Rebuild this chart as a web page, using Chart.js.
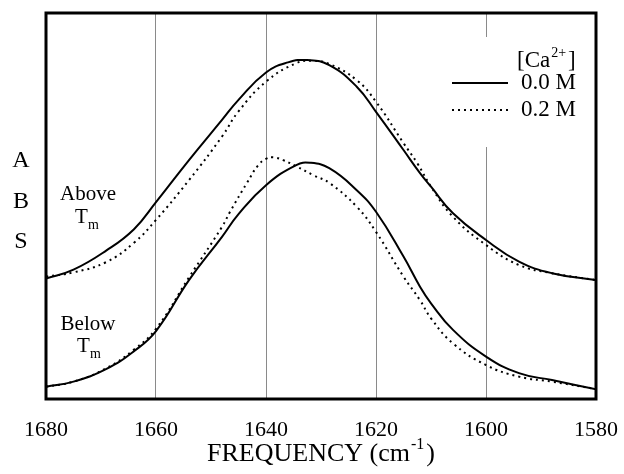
<!DOCTYPE html>
<html>
<head>
<meta charset="utf-8">
<script src="https://cdn.jsdelivr.net/npm/chart.js@4/dist/chart.umd.min.js"></script>
<style>
  html, body { margin: 0; padding: 0; background: #fff; }
  #wrap { width: 624px; height: 474px; }
</style>
</head>
<body>
<div id="wrap"><canvas id="c" width="624" height="474"></canvas></div>
<script>
// ---- data (absorbance in arbitrary units) ----
const xTicks = [1680, 1660, 1640, 1620, 1600, 1580];

const aboveFreq0 = [1680, 1675, 1669, 1664, 1660, 1654, 1648, 1645, 1640, 1636, 1632.5, 1628.5, 1623.5, 1620, 1615, 1612, 1610, 1606, 1600, 1594, 1588, 1580];
const aboveAbs0  = [0.312, 0.335, 0.385, 0.440, 0.510, 0.619, 0.723, 0.775, 0.846, 0.872, 0.878, 0.865, 0.809, 0.744, 0.645, 0.585, 0.550, 0.481, 0.412, 0.356, 0.326, 0.308];

const aboveFreq2 = [1680, 1675, 1669, 1664, 1660, 1654, 1648, 1645, 1640, 1634.5, 1631.5, 1628.5, 1623.5, 1620, 1615, 1612.5, 1610, 1606, 1600, 1594, 1588, 1580];
const aboveAbs2  = [0.317, 0.328, 0.355, 0.405, 0.464, 0.567, 0.680, 0.745, 0.822, 0.870, 0.876, 0.868, 0.826, 0.770, 0.663, 0.611, 0.550, 0.472, 0.399, 0.347, 0.326, 0.308];

const belowFreq0 = [1680, 1675, 1669, 1664, 1660, 1654, 1648, 1645, 1640, 1634.5, 1632, 1628.5, 1623.5, 1620, 1615, 1612, 1610, 1606, 1600, 1594, 1588, 1580];
const belowAbs0  = [0.032, 0.045, 0.078, 0.124, 0.176, 0.308, 0.420, 0.479, 0.554, 0.606, 0.612, 0.598, 0.541, 0.485, 0.369, 0.291, 0.248, 0.179, 0.110, 0.067, 0.049, 0.025];

const belowFreq2 = [1680, 1675, 1669, 1664, 1660, 1654, 1648, 1646.5, 1643.5, 1641.4, 1640, 1638.7, 1636.9, 1634.4, 1631.4, 1628.4, 1623.5, 1620, 1615, 1612, 1610, 1606, 1600, 1594, 1588, 1580];
const belowAbs2  = [0.032, 0.045, 0.080, 0.128, 0.182, 0.315, 0.446, 0.486, 0.559, 0.606, 0.622, 0.626, 0.619, 0.602, 0.580, 0.559, 0.498, 0.433, 0.317, 0.256, 0.209, 0.144, 0.088, 0.058, 0.045, 0.026];

const legendLabels = ['0.0 M', '0.2 M'];

function pts(fx, fy) { return fx.map((f, i) => ({ x: f, y: fy[i] })); }

const SERIF = '"Liberation Serif", "DejaVu Serif", serif';
const DOT = [2, 4];

function ds(fx, fy, dotted) {
  return {
    data: pts(fx, fy),
    borderColor: '#000',
    borderWidth: 2,
    borderDash: dotted ? DOT : [],
    pointRadius: 0,
    fill: false,
    tension: 0.45,
    borderCapStyle: 'butt'
  };
}

const decor = {
  id: 'decor',
  beforeDatasetsDraw(chart) {
    const c = chart.ctx;
    c.save();
    c.fillStyle = '#fff';
    c.fillRect(443, 37, 150, 110);
    c.restore();
  },
  afterDraw(chart) {
    const c = chart.ctx;
    const a = chart.chartArea;
    c.save();
    // frame
    c.strokeStyle = '#000';
    c.lineWidth = 3;
    c.strokeRect(a.left, a.top, a.right - a.left, a.bottom - a.top);

    c.fillStyle = '#000';
    c.textBaseline = 'alphabetic';

    // y label "A B S"
    c.font = '24px ' + SERIF;
    c.textAlign = 'center';
    c.fillText('A', 21, 167);
    c.fillText('B', 21, 208);
    c.fillText('S', 21, 248);

    // x title with superscript
    const t1 = 'FREQUENCY (cm', sup = '-1', t2 = ')';
    c.font = '26px ' + SERIF;
    const w1 = c.measureText(t1).width, w3 = c.measureText(t2).width;
    c.font = '16px ' + SERIF;
    const w2 = c.measureText(sup).width;
    const cx = (a.left + a.right) / 2;
    let x0 = cx - (w1 + w2 + 3 + w3) / 2;
    c.textAlign = 'left';
    c.font = '26px ' + SERIF;
    c.fillText(t1, x0, 461);
    c.font = '16px ' + SERIF;
    c.fillText(sup, x0 + w1 + 1, 449);
    c.font = '26px ' + SERIF;
    c.fillText(t2, x0 + w1 + w2 + 3, 461);

    // curve labels
    c.font = '21px ' + SERIF;
    c.textAlign = 'center';
    c.fillText('Above', 88, 200);
    c.fillText('Below', 88, 330);
    c.textAlign = 'left';
    c.fillText('T', 75, 223);
    c.fillText('T', 77, 352);
    c.font = '14px ' + SERIF;
    c.fillText('m', 88, 229);
    c.fillText('m', 90, 358);

    // legend
    c.font = '23px ' + SERIF;
    c.fillText('[Ca', 517, 67);
    const wCa = c.measureText('[Ca').width;
    c.font = '14px ' + SERIF;
    c.fillText('2+', 517 + wCa + 1, 57);
    const wSup = c.measureText('2+').width;
    c.font = '23px ' + SERIF;
    c.fillText(']', 517 + wCa + wSup + 3, 67);

    c.fillText(legendLabels[0], 521, 89);
    c.fillText(legendLabels[1], 521, 116);

    c.lineWidth = 2;
    c.beginPath();
    c.moveTo(452, 83); c.lineTo(508, 83);
    c.stroke();
    c.setLineDash(DOT);
    c.beginPath();
    c.moveTo(452, 110); c.lineTo(508, 110);
    c.stroke();
    c.restore();
  }
};

new Chart(document.getElementById('c'), {
  type: 'line',
  data: {
    datasets: [
      ds(aboveFreq0, aboveAbs0, false),
      ds(aboveFreq2, aboveAbs2, true),
      ds(belowFreq0, belowAbs0, false),
      ds(belowFreq2, belowAbs2, true)
    ]
  },
  options: {
    responsive: false,
    animation: false,
    devicePixelRatio: 1,
    layout: { padding: { left: 46, right: 28, top: 13, bottom: 0 } },
    plugins: { legend: { display: false }, tooltip: { enabled: false } },
    scales: {
      x: {
        type: 'linear',
        min: 1580, max: 1680,
        reverse: true,
        afterFit(scale) { scale.height = 75; scale.paddingLeft = 0; scale.paddingRight = 0; },
        afterBuildTicks(scale) { scale.ticks = xTicks.map(v => ({ value: v })); },
        ticks: {
          color: '#000',
          font: { family: SERIF, size: 22 },
          padding: 18,
          maxRotation: 0,
          autoSkip: false,
          callback: (v) => String(v)
        },
        grid: {
          drawTicks: false,
          lineWidth: 1,
          color(ctx) {
            const v = ctx.tick && ctx.tick.value;
            return (v === 1680 || v === 1580) ? 'rgba(0,0,0,0)' : '#8a8a8a';
          }
        },
        border: { display: false }
      },
      y: {
        display: false,
        min: 0, max: 1
      }
    }
  },
  plugins: [decor]
});
</script>
</body>
</html>
